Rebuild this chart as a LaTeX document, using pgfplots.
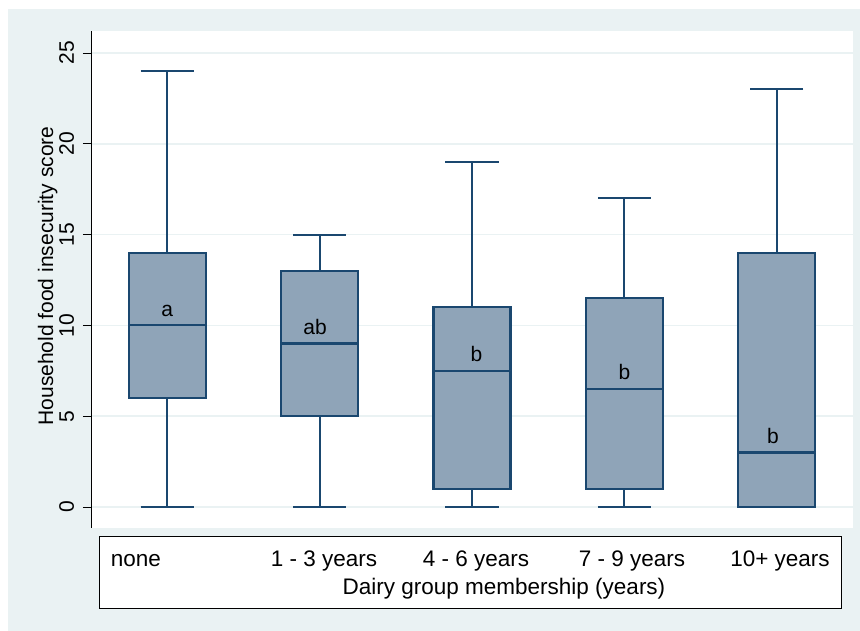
\documentclass[border=0pt]{standalone}
\usepackage{pgfplots}
\pgfplotsset{compat=1.18}
\usepgfplotslibrary{statistics}
\usepackage{fontspec}
\setmainfont{Liberation Sans}
\definecolor{bgc}{HTML}{EAF2F3}
\definecolor{navyc}{HTML}{1A476F}
\definecolor{boxc}{HTML}{8FA4B8}
\begin{document}
\begin{tikzpicture}[x=1pt,y=1pt]
\path[use as bounding box] (0,0) rectangle (860,631);
\fill[white] (0,0) rectangle (860,631);
\fill[bgc] (8,0) rectangle (860,622);
\begin{axis}[
  at={(91pt,103pt)}, anchor=south west, scale only axis,
  width=762pt, height=497pt,
  xmin=0.5, xmax=5.5, ymin=-1.156, ymax=26.21,
  axis x line=none, axis y line*=left,
  y axis line style={black, line width=0.9pt},
  axis background/.style={fill=white},
  xtick=\empty,
  ytick={0,5,10,15,20,25},
  ymajorgrids, grid style={color=bgc, line width=1.5pt},
  tick align=outside, major tick length=8pt,
  ytick style={black, line width=0.9pt},
  /pgf/number format/assume math mode=true,
  yticklabel style={font=\fontsize{21}{25}\selectfont, xshift=-9pt, rotate=90, anchor=base},
  boxplot/draw direction=y,
  boxplot/box extend=0.505,
  boxplot/whisker extend=0.348,
  boxplot/every box/.style={draw=navyc, fill=boxc, line width=2.1pt},
  boxplot/every median/.style={draw=navyc, line width=2.1pt},
  boxplot/every whisker/.style={draw=navyc, line width=2.1pt},
  clip=false,
]
\addplot[boxplot prepared={draw position=1, lower whisker=0, lower quartile=6, median=10, upper quartile=14, upper whisker=24},
  fill=boxc, draw=navyc, line width=2.1pt] coordinates {};
\addplot[boxplot prepared={draw position=2, lower whisker=0, lower quartile=5, median=9, upper quartile=13, upper whisker=15},
  fill=boxc, draw=navyc, line width=2.1pt] coordinates {};
\addplot[boxplot prepared={draw position=3, lower whisker=0, lower quartile=1, median=7.5, upper quartile=11, upper whisker=19},
  fill=boxc, draw=navyc, line width=2.1pt] coordinates {};
\addplot[boxplot prepared={draw position=4, lower whisker=0, lower quartile=1, median=6.5, upper quartile=11.5, upper whisker=17},
  fill=boxc, draw=navyc, line width=2.1pt] coordinates {};
\addplot[boxplot prepared={draw position=5, lower whisker=0, lower quartile=0, median=3, upper quartile=14, upper whisker=23},
  fill=boxc, draw=navyc, line width=2.1pt] coordinates {};
\node[anchor=base, font=\fontsize{21}{25}\selectfont] at (axis cs:1.0,10.5) {a};
\node[anchor=base, font=\fontsize{21}{25}\selectfont] at (axis cs:1.97,9.5) {ab};
\node[anchor=base, font=\fontsize{21}{25}\selectfont] at (axis cs:3.03,8.0) {b};
\node[anchor=base, font=\fontsize{21}{25}\selectfont] at (axis cs:4.0,7.0) {b};
\node[anchor=base, font=\fontsize{21}{25}\selectfont] at (axis cs:4.975,3.5) {b};
\end{axis}
\node[rotate=90, anchor=base, font=\fontsize{21}{25}\selectfont] at (53,355) {Household food insecurity score};
\draw[black, line width=0.9pt, fill=white] (99,23) rectangle (841,95);
\begin{scope}[every node/.style={anchor=base, font=\fontsize{22.5}{27}\selectfont, inner sep=0pt}]
\node[anchor=base west] at (110.7,64) {none};
\node at (324,64) {1 - 3 years};
\node at (476,64) {4 - 6 years};
\node at (632,64) {7 - 9 years};
\node at (780,64) {10+ years};
\node at (504,36) {Dairy group membership (years)};
\end{scope}
\end{tikzpicture}
\end{document}
